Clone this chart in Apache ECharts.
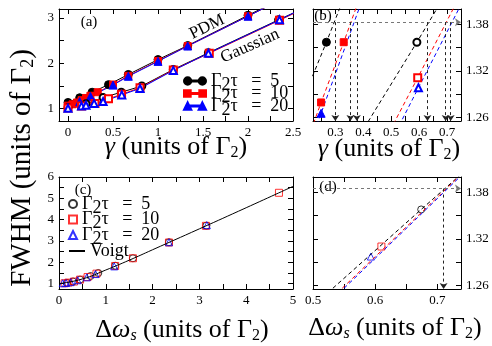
<!DOCTYPE html>
<html>
<head>
<meta charset="utf-8">
<script src="https://cdn.jsdelivr.net/npm/echarts@6/dist/echarts.min.js"></script>
<style>
html,body{margin:0;padding:0;background:#fff}
#main{width:492px;height:346px}
</style>
</head>
<body>
<div id="main"></div>
<script>
// values: [gamma, FWHM] (units of Gamma2)
var tauValues = [5, 10, 20];
var pdmT5 = [[0,1.13],[0.13,1.235],[0.268,1.357],[0.45,1.525],[0.67,1.75],[1.0,2.08],[1.33,2.39],[2.0,3.06],[2.67,3.72]];
var pdmT10 = [[0,1.06],[0.05,1.09],[0.1,1.13],[0.15,1.18],[0.2,1.23],[0.249,1.279],[0.33,1.357],[0.5,1.528],[0.67,1.72],[1.0,2.05],[1.33,2.38],[2.0,3.04],[2.67,3.71]];
var pdmT20 = [[0,1.03],[0.13,1.15],[0.249,1.265],[0.5,1.515],[0.67,1.71],[1.0,2.04],[1.33,2.38],[2.0,3.04],[2.67,3.71]];
var gaussT5 = [[0,1.02],[0.2,1.1],[0.39,1.238],[0.592,1.357],[0.82,1.495],[1.17,1.86],[1.56,2.23],[2.34,2.96],[3.14,3.7]];
var gaussT10 = [[0,1.01],[0.15,1.05],[0.3,1.11],[0.45,1.211],[0.595,1.311],[0.8,1.455],[1.17,1.85],[1.57,2.22],[2.35,2.95],[3.14,3.7]];
var gaussT20 = [[0,1.0],[0.15,1.05],[0.2,1.07],[0.29,1.11],[0.39,1.151],[0.5975,1.298],[0.8,1.441],[1.17,1.84],[1.56,2.22],[2.35,2.96],[3.16,3.74]];

// (b) where the curves reach the level, arrows down to the axis
var bLevel = 1.383;
var bCrossX = [0.30, 0.354, 0.377, 0.63, 0.695, 0.713];

// [delta omega_s, FWHM]
var specT5 = [[0.17,1.04],[0.3,1.1],[0.45,1.19],[0.674,1.358],[0.84,1.5],[1.2,1.84],[1.58,2.19],[2.35,2.94],[3.15,3.72]];
var specT10 = [[0.12,1.02],[0.2,1.05],[0.32,1.1],[0.45,1.19],[0.61,1.31],[0.8,1.47],[1.2,1.83],[1.58,2.19],[2.35,2.93],[3.14,3.71],[4.7,5.26]];
var specT20 = [[0.08,1.02],[0.15,1.03],[0.25,1.07],[0.4,1.16],[0.593,1.297],[0.78,1.45],[1.18,1.81],[2.35,2.94],[3.16,3.74]];
var voigt = [[0,1.0],[0.5,1.22],[1,1.64],[1.5,2.1],[2,2.59],[3,3.57],[4,4.56],[5,5.56]];

// (d) dashed curves
var dLineT5 = [[0.532,1.256],[0.674,1.358],[0.736,1.402]];
var dLineT10 = [[0.547,1.256],[0.734,1.4]];
var dLineT20 = [[0.55,1.256],[0.736,1.4]];
var dLevel = 1.385;
var dCrossX = [0.71];

// ticks and labels
var aXTicks = [0,0.25,0.5,0.75,1,1.25,1.5,1.75,2,2.25,2.5];
var aXLabels = [0,0.5,1,1.5,2,2.5];
var aYTicks = [1,1.5,2,2.5,3];
var aYLabels = [1,2,3];
var bXTicks = [0.25,0.3,0.35,0.4,0.45,0.5,0.55,0.6,0.65,0.7];
var bXLabels = [0.3,0.4,0.5,0.6,0.7];
var zYTicks = [1.26,1.29,1.32,1.35,1.38];
var zYLabels = [1.26,1.32,1.38];
var cXTicks = [0,0.5,1,1.5,2,2.5,3,3.5,4,4.5,5];
var cXLabels = [0,1,2,3,4,5];
var cYTicks = [1,1.5,2,2.5,3,3.5,4,4.5,5,5.5,6];
var cYLabels = [1,2,3,4,5,6];
var dXTicks = [0.5,0.55,0.6,0.65,0.7];
var dXLabels = [0.5,0.6,0.7];

var SERIF = 'Liberation Serif';
var RED = '#ff0000', BLUE = '#0000ff', BLACK = '#000000';

function axis(grid, pos, min, max, ticks, labels, showLabel) {
  return {
    type: 'value', gridIndex: grid, position: pos, min: min, max: max,
    axisLine: { show: true, onZero: false, lineStyle: { color: '#000', width: 1 } },
    axisTick: { show: true, inside: true, length: 5, customValues: ticks, lineStyle: { color: '#000' } },
    axisLabel: { show: showLabel, customValues: labels, color: '#000', fontFamily: SERIF, fontSize: 13, margin: 5 },
    splitLine: { show: false }
  };
}

function f(size, italic) {
  return (italic ? 'italic ' : '') + size + 'px "' + SERIF + '"';
}

function richFor(size) {
  return {
    i: { font: f(size, true) },
    r: { font: f(size, false) },
    s: { font: f(Math.round(size * 0.62), false), padding: [Math.round(size * 0.45), 0, 0, 0] },
    si: { font: f(Math.round(size * 0.62), true), padding: [Math.round(size * 0.45), 0, 0, 0] }
  };
}

function label(x, y, text, size, rot) {
  return {
    type: 'text', x: x, y: y, rotation: (rot || 0) * Math.PI / 180,
    style: { text: text, font: f(size, false), fill: '#000', align: 'center', verticalAlign: 'middle', rich: richFor(size) }
  };
}

function lineSeries(name, xi, data, color, symbol, size, dashed) {
  return {
    name: name, type: 'line', xAxisIndex: xi, yAxisIndex: xi, data: data,
    symbol: symbol, symbolSize: size, showSymbol: symbol !== 'none',
    lineStyle: { color: color, width: 1, type: dashed ? [4, 3] : 'solid' },
    itemStyle: { color: color, borderColor: color, borderWidth: 1 },
    emphasis: { disabled: true }, clip: true
  };
}

function scatterSeries(name, xi, data, color, symbol, size) {
  return {
    name: name, type: 'scatter', xAxisIndex: xi, yAxisIndex: xi, data: data,
    symbol: symbol, symbolSize: size, symbolKeepAspect: true,
    itemStyle: { color: 'rgba(255,255,255,0)', borderColor: color, borderWidth: 1 },
    emphasis: { disabled: true }, clip: true
  };
}

function arrows(level, xs, x0, x1, ymin) {
  var d = [[{ coord: [x0, level], lineStyle: { color: '#777', type: [3, 3], width: 1 } }, { coord: [x1, level] }]];
  xs.forEach(function (x) {
    d.push([{ coord: [x, level], lineStyle: { color: '#222', type: [3, 3], width: 1 } }, { coord: [x, ymin] }]);
  });
  return {
    silent: true, symbol: ['none', 'arrow'], symbolSize: 6,
    label: { show: false }, emphasis: { disabled: true }, animation: false, data: d
  };
}

var chart = echarts.init(document.getElementById('main'));

var tauName = { p5: 0, p10: 1, p20: 2, c5: 0, c10: 1, c20: 2 };
function legendFmt(n) {
  if (n === 'Voigt') return '{r|Voigt}';
  return '{r|Γ}{s|2}{i|τ}{r|   =  ' + tauValues[tauName[n]] + '}';
}

// marker - line - marker icons like the original legend
var iconCircle = 'path://M0,4A4,4,0,1,1,8,4A4,4,0,1,1,0,4ZM7,3.5H17V4.5H7ZM16,4A4,4,0,1,1,24,4A4,4,0,1,1,16,4Z';
var iconRect = 'path://M0.5,0.5H7.5V7.5H0.5ZM7,3.5H17V4.5H7ZM16.5,0.5H23.5V7.5H16.5Z';
var iconTri = 'path://M4,0L8,8H0ZM7,3.5H17V4.5H7ZM20,0L24,8H16Z';

var bSeries = [
  lineSeries('b5', 2, pdmT5, BLACK, 'circle', 8, true),
  lineSeries('b10', 2, pdmT10, RED, 'rect', 7, true),
  lineSeries('b20', 2, pdmT20, BLUE, 'triangle', 8, true),
  lineSeries('bg5', 2, gaussT5, BLACK, 'emptyCircle', 7, true),
  lineSeries('bg10', 2, gaussT10, RED, 'emptyRect', 7, true),
  lineSeries('bg20', 2, gaussT20, BLUE, 'emptyTriangle', 7, true)
];
bSeries[0].markLine = arrows(bLevel, bCrossX, 0.22, 0.75, 1.255);

var dSeries = [
  lineSeries('dl5', 6, dLineT5, BLACK, 'none', 0, true),
  lineSeries('dl10', 6, dLineT10, RED, 'none', 0, true),
  lineSeries('dl20', 6, dLineT20, BLUE, 'none', 0, true),
  scatterSeries('d5', 6, specT5, BLACK, 'circle', 7),
  scatterSeries('d10', 6, specT10, RED, 'rect', 7),
  scatterSeries('d20', 6, specT20, BLUE, 'triangle', 7)
];
dSeries[0].markLine = arrows(dLevel, dCrossX, 0.5, 0.738, 1.255);

var legendText = { color: '#000', fontSize: 18, rich: richFor(18) };

var option = {
  animation: false,
  backgroundColor: '#fff',
  textStyle: { fontFamily: SERIF },
  grid: [
    { left: 59, top: 9, width: 234, height: 112 },
    { left: 313, top: 9, width: 148, height: 112 },
    { left: 59, top: 177, width: 234, height: 112 },
    { left: 313, top: 177, width: 148, height: 112 }
  ],
  xAxis: [
    axis(0, 'bottom', -0.1, 2.5, aXTicks, aXLabels, true),
    axis(0, 'top', -0.1, 2.5, aXTicks, aXLabels, false),
    axis(1, 'bottom', 0.22, 0.75, bXTicks, bXLabels, true),
    axis(1, 'top', 0.22, 0.75, bXTicks, bXLabels, false),
    axis(2, 'bottom', 0, 5, cXTicks, cXLabels, true),
    axis(2, 'top', 0, 5, cXTicks, cXLabels, false),
    axis(3, 'bottom', 0.5, 0.738, dXTicks, dXLabels, true),
    axis(3, 'top', 0.5, 0.738, dXTicks, dXLabels, false)
  ],
  yAxis: [
    axis(0, 'left', 0.72, 3.2, aYTicks, aYLabels, true),
    axis(0, 'right', 0.72, 3.2, aYTicks, aYLabels, false),
    axis(1, 'right', 1.255, 1.4, zYTicks, zYLabels, true),
    axis(1, 'left', 1.255, 1.4, zYTicks, zYLabels, false),
    axis(2, 'left', 0.75, 6, cYTicks, cYLabels, true),
    axis(2, 'right', 0.75, 6, cYTicks, cYLabels, false),
    axis(3, 'right', 1.255, 1.4, zYTicks, zYLabels, true),
    axis(3, 'left', 1.255, 1.4, zYTicks, zYLabels, false)
  ],
  legend: [
    {
      data: [{ name: 'p5', icon: iconCircle }, { name: 'p10', icon: iconRect }, { name: 'p20', icon: iconTri }],
      orient: 'vertical', left: 183, top: 72, padding: 0,
      itemWidth: 22, itemHeight: 8, itemGap: -9.5, selectedMode: false,
      formatter: legendFmt, textStyle: legendText
    },
    {
      data: ['c5', 'c10', 'c20'],
      orient: 'vertical', left: 68, top: 195, padding: 0,
      itemWidth: 8, itemHeight: 8, itemGap: -6.5, selectedMode: false,
      formatter: legendFmt, textStyle: legendText
    },
    {
      data: [{ name: 'Voigt', itemStyle: { color: 'rgba(0,0,0,0)', borderColor: 'rgba(0,0,0,0)' } }],
      orient: 'vertical', left: 68, top: 242, padding: 0,
      itemWidth: 16, itemHeight: 7, selectedMode: false,
      formatter: legendFmt, textStyle: legendText
    }
  ],
  graphic: [
    label(89, 22, '(a)', 15),
    label(323, 16, '(b)', 15),
    label(83, 190, '(c)', 15),
    label(328, 187, '(d)', 15),
    label(207, 27, 'PDM', 17, 26),
    label(250, 46, 'Gaussian', 17, 24),
    label(22, 168, 'FWHM (units of Γ{s|2})', 29, 90),
    label(176, 147, '{i|γ} (units of Γ{s|2})', 26),
    label(389, 149, '{i|γ} (units of Γ{s|2})', 26),
    label(182, 330, 'Δ{i|ω}{si|s} (units of Γ{s|2})', 26),
    label(395, 328, 'Δ{i|ω}{si|s} (units of Γ{s|2})', 26)
  ],
  series: [
    lineSeries('p5', 0, pdmT5, BLACK, 'circle', 8),
    lineSeries('p10', 0, pdmT10, RED, 'rect', 7),
    lineSeries('p20', 0, pdmT20, BLUE, 'triangle', 8),
    lineSeries('g5', 0, gaussT5, BLACK, 'emptyCircle', 7),
    lineSeries('g10', 0, gaussT10, RED, 'emptyRect', 7),
    lineSeries('g20', 0, gaussT20, BLUE, 'emptyTriangle', 7),
    scatterSeries('c5', 4, specT5, BLACK, 'circle', 7),
    scatterSeries('c10', 4, specT10, RED, 'rect', 7),
    scatterSeries('c20', 4, specT20, BLUE, 'triangle', 7),
    lineSeries('Voigt', 4, voigt, BLACK, 'none', 0)
  ].concat(bSeries, dSeries)
};
option.series[9].smooth = true;
chart.setOption(option);
</script>
</body>
</html>
